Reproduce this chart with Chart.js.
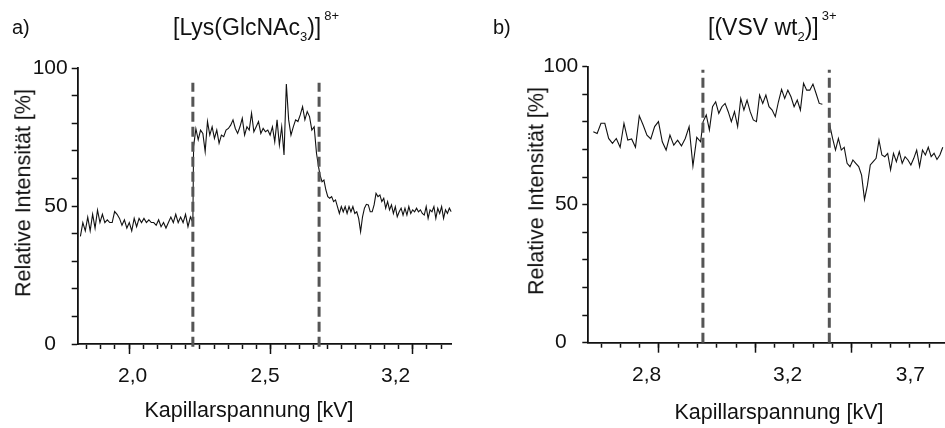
<!DOCTYPE html>
<html><head><meta charset="utf-8">
<script src="https://cdn.jsdelivr.net/npm/chart.js@4/dist/chart.umd.min.js"></script>
<style>
html,body{margin:0;padding:0;background:#fff;}
#wrap{position:relative;width:945px;height:428px;overflow:hidden;font-family:"Liberation Sans",Arial,sans-serif;color:#111;}
canvas{position:absolute;top:0;}
.t{position:absolute;white-space:nowrap;line-height:1;}
.sub{font-size:13px;position:relative;top:6px;}
.sup{font-size:13px;position:relative;top:-15px;margin-left:3px;}
.yt{font-size:21.5px;transform:translate(-50%,-50%) rotate(-90deg);}
.xt{font-size:21.5px;transform:translateX(-50%);}
</style></head><body>
<div id="wrap">
<canvas id="cA" width="470" height="428" style="left:0"></canvas>
<canvas id="cB" width="475" height="428" style="left:470px"></canvas>
<div class="t" style="left:12px;top:17px;font-size:20px">a)</div>
<div class="t" style="left:173px;top:16px;font-size:23px">[Lys(GlcNAc<span class="sub">3</span>)]<span class="sup">8+</span></div>
<div class="t" style="left:493px;top:17px;font-size:20px">b)</div>
<div class="t" style="left:708px;top:16px;font-size:23px">[(VSV wt<span class="sub">2</span>)]<span class="sup">3+</span></div>
<div class="t yt" style="left:24px;top:193px;">Relative Intensität [%]</div>
<div class="t yt" style="left:537px;top:191px;">Relative Intensität [%]</div>
<div class="t xt" style="left:249px;top:400px;">Kapillarspannung [kV]</div>
<div class="t xt" style="left:779px;top:402px;">Kapillarspannung [kV]</div>
</div>
<script>
// ---------- data (x in scan-step units of the x axis) ----------
const leftSeg1 = [39,44,41,46,41,47,42,48.5,44,47,44,45,44,44,48,47,45.5,43,45,42,44,41,45.5,42.5,45.5,44,45.5,44,45,44,44,43,45,42.5,44,42,44,46,44,47,44,46,44,47,42.5,46,44];
const leftSeg2 = [71.5,78,74,77.5,76.3,69.7,80.6,75.7,78.7,74.5,77.5,72.7,75.7,75.1,77.5,78.1,79.3,81.2,78.1,76.3,78.7,81.8,75.7,78.7,77.5,83.6,76.9,78.7,80.6,76.3,78.1,76.9,77.5,75.7,78.7,73.3,81.2,72.1,78.7,68.5,94.2,81.2,75.7,78.7,81.2,80.6,83,86,81.2,84.2,82.4,77.5,78.7,69.1,63.6];
const leftSeg3 = [61.2,58.8,59.4,55.8,53.4,52.8,53.4,51.6,52.2,49.8,47.3,49.8,47.9,49.8,47.3,49.8,47.9,49.8,47.3,47.9,45.5,40.7,46.1,49.2,50.6,50.4,47.9,47.9,50.4,54.6,53.4,54,51.6,52.8,49.2,51.6,48.6,50.4,47.3,49.8,46.1,47.9,49.2,46.7,49.2,46.7,49.8,47.3,48.6,47.9,49.2,47.9,48.6,47.3,46.7,49.8,45.5,48.6,47.9,49.8,45.5,49.2,47.3,49.8,45.5,48.6,47.3,49.2,47.9];
const leftSegX = [[-3.43,4.5],[4.55,13.38],[13.47,22.72]];
const leftDashX = [4.5, 13.4];
const leftDashY = [-1, 94.7];
const leftTickPos = [0.25, 9.6, 18.8];
const leftTickLabels = ['2,0','2,5','3,2'];
const leftMajor = [0, 10, 20];

const rightSeg1 = [76.4,75.8,79.5,79.5,74,72.2,74,70.8,79.5,73.4,73.8,70.8,82.2,78.9,75.2,73.8,78.3,80.1,72.8,69.8,75.2,71.6,73.4,71.3,74,78.3,64,74.4,72.8];
const rightSeg2 = [80.1,82.5,77.1,85.5,87.3,83.1,85.5,86.7,83.7,80.1,83.7,78.3,88.5,84.3,87.9,83.7,80.7,80.1,89.7,86.7,89.7,85.5,84.3,81.9,87.3,91.8,88.5,91.5,89.1,85.5,87.9,84.3,94,91.5,91.5,93.7,90.3,86.7,86.4];
const rightSeg3 = [78.9,74,69.8,74,69.8,70.8,65,63.8,66.2,65,63.8,60.7,51.9,57,64.4,65.6,66.8,73.4,68,67.4,68.6,62.6,68.6,65.6,69.2,65,67.4,66.2,64.4,66.8,69.8,63.8,69.8,68,70.8,67.4,68.6,66.4,68,70.8];
const rightSegX = [[-3.40,2.16],[2.29,8.47],[8.85,14.71]];
const rightDashX = [2.28, 8.83];
const rightDashY = [0, 98.9];
const rightTickPos = [-0.64, 6.67, 13.03];
const rightTickLabels = ['2,8','3,2','3,7'];
const rightMajor = [0, 5, 10];

const yTickVals = [0,10,20,30,40,50,60,70,80,90,100];
const yLabelVals = [0,50,100];

// ---------- build ----------
function segPoints(segs, ranges, gapAfter) {
  const pts = [];
  segs.forEach((vals, s) => {
    const [a, b] = ranges[s];
    vals.forEach((v, i) => pts.push({x: a + (b - a) * i / (vals.length - 1), y: v}));
    if (gapAfter.includes(s)) pts.push({x: b + 0.01, y: null});
  });
  return pts;
}
function intRange(a, b) { const r = []; for (let i = a; i <= b; i++) r.push(i); return r; }

const FONT = "'Liberation Sans', Arial, sans-serif";
function makeChart(id, o) {
  const ds = [{data: o.points, borderColor: '#111', borderWidth: 1.1, pointRadius: 0, tension: 0, spanGaps: false, order: 1}];
  o.dashX.forEach(x => ds.push({data: [{x: x, y: o.dashY[0]}, {x: x, y: o.dashY[1]}],
    borderColor: '#555', borderWidth: 3, borderDash: [10, 5], pointRadius: 0, clip: false, order: 0}));
  return new Chart(document.getElementById(id), {
    type: 'line',
    data: {datasets: ds},
    options: {
      responsive: false, animation: false, devicePixelRatio: 1,
      layout: {padding: {top: o.padTop, right: o.padRight, left: 0, bottom: 0}},
      plugins: {legend: {display: false}, tooltip: {enabled: false}},
      scales: {
        x: {type: 'linear', position: 'bottom', weight: 0, min: o.xMin, max: o.xMax,
          afterBuildTicks: s => { s.ticks = o.minor.map(v => ({value: v})); },
          afterFit: s => { s.height = 0; },
          ticks: {display: false, autoSkip: false},
          grid: {drawOnChartArea: false, tickLength: 5, tickWidth: 1.5, tickColor: '#111'},
          border: {display: true, color: '#111', width: 1.8}},
        xMajor: {type: 'linear', position: 'bottom', weight: 1, min: o.xMin, max: o.xMax,
          afterBuildTicks: s => { s.ticks = o.major.map(v => ({value: v})); },
          afterFit: s => { s.height = 0; },
          ticks: {display: false, autoSkip: false},
          grid: {drawOnChartArea: false, tickLength: 10, tickWidth: 1.5, tickColor: '#111'},
          border: {display: false}},
        xLab: {type: 'linear', position: 'bottom', weight: 2, min: o.xMin, max: o.xMax,
          afterBuildTicks: s => { s.ticks = o.tickPos.map(v => ({value: v})); },
          afterFit: s => { s.height = o.xHeight; },
          ticks: {display: true, autoSkip: false, maxRotation: 0, padding: 20, color: '#111',
            font: {family: FONT, size: 21}, callback: (v, i) => o.tickLabels[i]},
          grid: {display: false, drawTicks: false},
          border: {display: false}},
        y: {type: 'linear', position: 'left', min: 0, max: 100,
          afterBuildTicks: s => { s.ticks = yTickVals.map(v => ({value: v})); },
          afterFit: s => { s.width = o.yWidth; },
          ticks: {autoSkip: false, padding: 4, color: '#111', font: {family: FONT, size: 21},
            callback: v => yLabelVals.includes(v) ? (v === 0 ? '0  ' : String(v)) : ''},
          grid: {drawOnChartArea: false, tickLength: 6, tickWidth: 1.5, tickColor: '#111'},
          border: {display: true, color: '#111', width: 1.8}}
      }
    }
  });
}

makeChart('cA', {
  points: segPoints([leftSeg1, leftSeg2, leftSeg3], leftSegX, []),
  dashX: leftDashX, dashY: leftDashY,
  xMin: -3.62, xMax: 22.75, minor: intRange(-3, 22), major: leftMajor,
  tickPos: leftTickPos, tickLabels: leftTickLabels,
  padTop: 68, padRight: 18.3, xHeight: 84, yWidth: 77.7
});
makeChart('cB', {
  points: segPoints([rightSeg1, rightSeg2, rightSeg3], rightSegX, [1]),
  dashX: rightDashX, dashY: rightDashY,
  xMin: -3.66, xMax: 14.8, minor: intRange(-3, 14), major: rightMajor,
  tickPos: rightTickPos, tickLabels: rightTickLabels,
  padTop: 66.7, padRight: 0, xHeight: 85.3, yWidth: 118.3
});
</script>
</body></html>
